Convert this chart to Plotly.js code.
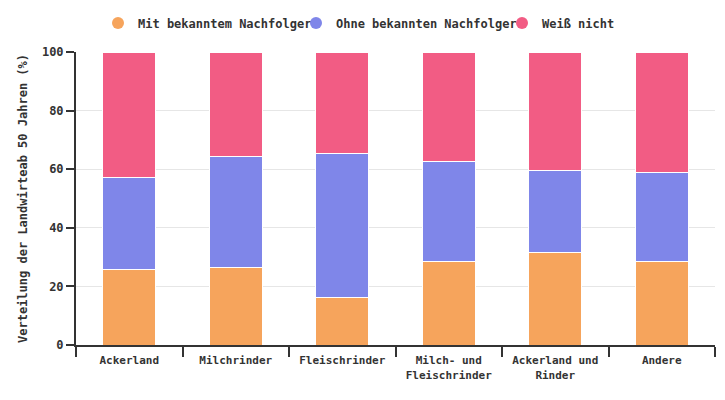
<!DOCTYPE html>
<html><head><meta charset="utf-8">
<script src="https://cdn.plot.ly/plotly-3.0.1.min.js"></script>
<style>body{margin:0}</style></head>
<body><div id="chart" style="width:725px;height:400px"></div>
<script>
const categories = ["Ackerland", "Milchrinder", "Fleischrinder", "Milch- und<br>Fleischrinder", "Ackerland und<br>Rinder", "Andere"];
const mitNachfolger = [25.8, 26.5, 16.3, 28.6, 31.6, 28.6];
const ohneNachfolger = [31.3, 37.9, 49.1, 34.1, 28.0, 30.3];
const weissNicht = [42.9, 35.6, 34.6, 37.3, 40.4, 41.1];
const seriesNames = ["Mit bekanntem Nachfolger", "Ohne bekannten Nachfolger", "Weiß nicht"];
const colors = ["#F6A45C", "#7F86E9", "#F25C84"];
const font = {family: "DejaVu Sans Mono", color: "#333", weight: "bold"};
const legendIds = ["legend", "legend2", "legend3"];
const legendLeft = [98, 296, 502];
const bars = [mitNachfolger, ohneNachfolger, weissNicht].map((v, i) => ({
  type: "bar", x: categories, y: v, name: seriesNames[i], legendgroup: "g" + i, showlegend: false,
  marker: {color: colors[i], line: {color: "#fff", width: 1}},
  hoverinfo: "skip"
}));
const legendItems = seriesNames.map((n, i) => ({
  type: "scatter", mode: "markers", x: [null], y: [null], name: n, legendgroup: "g" + i, legend: legendIds[i],
  marker: {color: colors[i], size: 12, symbol: "circle"}, hoverinfo: "skip"
}));
const layout = {
  barmode: "stack", bargap: 0.5,
  width: 725, height: 400,
  margin: {l: 76, r: 10, t: 52, b: 55},
  paper_bgcolor: "#fff", plot_bgcolor: "#fff",
  font: Object.assign({size: 12}, font),
  showlegend: true,
  xaxis: {showline: true, linecolor: "#333", linewidth: 2, ticks: "outside", tickson: "boundaries", ticklen: 10, tickwidth: 2, tickcolor: "#333",
    ticklabelstandoff: 4, tickfont: Object.assign({size: 11}, font), showgrid: false},
  yaxis: {range: [0, 100], showline: true, linecolor: "#333", linewidth: 2, ticks: "outside", ticklen: 8, tickwidth: 2, tickcolor: "#333",
    dtick: 20, gridcolor: "#e6e6e6", zeroline: false, tickfont: Object.assign({size: 12}, font),
    title: {text: "Verteilung der Landwirteab 50 Jahren (%)", font: Object.assign({size: 12}, font), standoff: 12}}
};
legendIds.forEach((id, i) => {
  layout[id] = {orientation: "h", x: legendLeft[i] / 725, xref: "container", xanchor: "left", y: 1 - 23/400, yref: "container", yanchor: "middle",
    bgcolor: "rgba(0,0,0,0)", font: Object.assign({size: 12}, font)};
});
Plotly.newPlot("chart", bars.concat(legendItems), layout, {displayModeBar: false});
</script></body></html>
